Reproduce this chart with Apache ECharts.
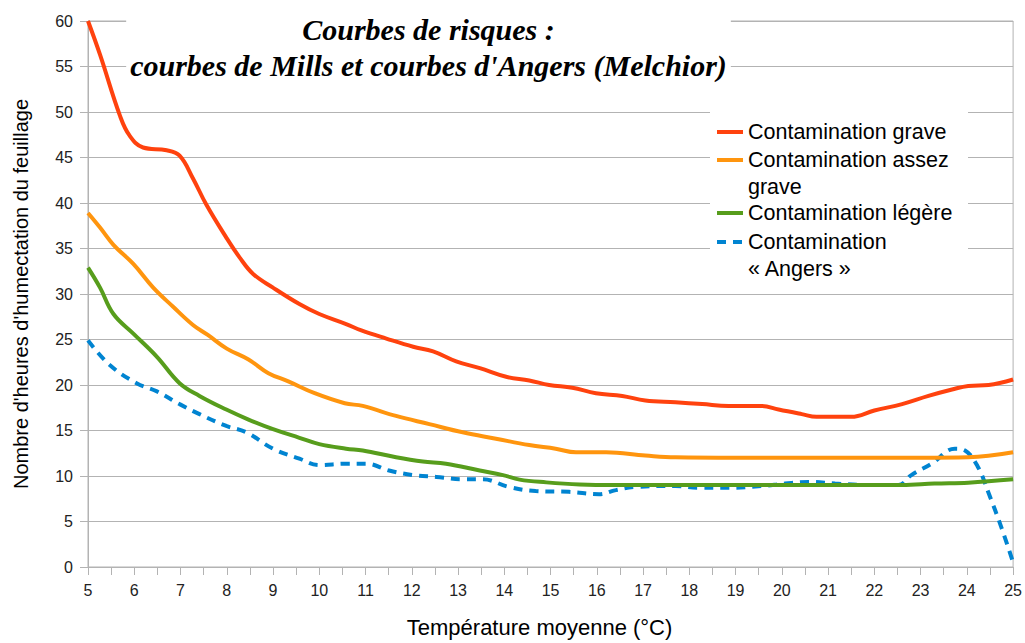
<!DOCTYPE html>
<html><head><meta charset="utf-8">
<script src="https://cdn.jsdelivr.net/npm/echarts@6/dist/echarts.min.js"></script>
<style>html,body{margin:0;padding:0;background:#fff}#c{width:1025px;height:643px}</style>
</head><body><div id="c"></div>
<script>
// ---- data ----
const seriesNames = ['Contamination grave', 'Contamination assez\ngrave', 'Contamination légère', 'Contamination\n« Angers »'];
const graveX = [5, 5.26, 5.69, 5.9, 6.19, 6.7, 6.98, 7.27, 7.56, 7.99, 8.28, 8.57, 9.0, 9.57, 10.0, 10.58, 10.91, 11.45, 12.03, 12.46, 12.96, 13.47, 14.04, 14.54, 14.97, 15.47, 15.98, 16.55, 17.05, 17.7, 18.28, 18.85, 19.57, 19.93, 20.43, 20.75, 21.5, 22.0, 22.6, 23.17, 23.68, 24.03, 24.47, 25];
const graveY = [60, 56.3, 49.6, 47.4, 46.1, 45.8, 45.2, 42.7, 39.8, 36.2, 34.0, 32.2, 30.7, 28.9, 27.8, 26.7, 26.0, 25.1, 24.2, 23.7, 22.6, 21.85, 20.9, 20.5, 20.0, 19.7, 19.1, 18.8, 18.3, 18.1, 17.9, 17.7, 17.7, 17.3, 16.8, 16.5, 16.5, 17.2, 17.9, 18.8, 19.5, 19.9, 20.0, 20.6];
const assezX = [5, 5.26, 5.55, 5.98, 6.41, 6.84, 7.27, 7.59, 8.0, 8.47, 8.9, 9.33, 9.9, 10.55, 10.94, 11.66, 12.38, 13.1, 13.82, 14.54, 15.11, 15.55, 16.2, 17.05, 17.7, 19, 20, 21, 22, 23, 24.03, 25];
const assezY = [38.9, 37.3, 35.4, 33.3, 30.7, 28.6, 26.6, 25.5, 24.0, 22.8, 21.3, 20.4, 19.1, 18.0, 17.7, 16.6, 15.7, 14.8, 14.1, 13.4, 13.0, 12.6, 12.6, 12.25, 12.05, 12, 12, 12, 12, 12, 12.05, 12.6];
const legereX = [5, 5.26, 5.55, 5.98, 6.49, 6.98, 7.41, 7.99, 8.47, 9.0, 9.57, 10.0, 10.58, 10.94, 11.66, 12.24, 12.74, 13.47, 13.97, 14.33, 14.91, 15.63, 16.35, 18, 20, 22.6, 23.3, 24.03, 25];
const legereY = [32.9, 30.7, 27.8, 25.65, 23.1, 20.2, 18.8, 17.3, 16.2, 15.15, 14.2, 13.5, 13.0, 12.8, 12.07, 11.6, 11.35, 10.6, 10.1, 9.6, 9.3, 9.07, 9.0, 9.0, 9.0, 9.0, 9.17, 9.27, 9.64];
const angersX = [5, 5.47, 6.05, 6.49, 6.98, 7.41, 7.99, 8.42, 9.0, 9.57, 10.0, 10.58, 11.01, 11.51, 12.03, 12.53, 13.1, 13.53, 14.1, 14.68, 15.4, 16.05, 16.41, 16.84, 17.7, 18.2, 18.85, 19.57, 20.07, 20.58, 21.15, 21.87, 22.52, 22.8, 23.24, 23.74, 23.96, 24.24, 24.46, 24.75, 25];
const angersY = [24.9, 22.2, 20.2, 19.3, 17.9, 16.8, 15.5, 14.8, 13.0, 11.9, 11.2, 11.35, 11.35, 10.6, 10.1, 9.9, 9.64, 9.64, 8.8, 8.34, 8.26, 8.0, 8.45, 8.8, 8.9, 8.7, 8.7, 8.9, 9.17, 9.35, 9.17, 9.0, 9.0, 10.1, 11.35, 13.0, 12.8, 11.0, 8.26, 4.3, 0.5];
const titleText = "Courbes de risques :\ncourbes de Mills et courbes d'Angers (Melchior)";
const xName = 'Température moyenne (°C)';
const yName = "Nombre d'heures d'humectation du feuillage";

// ---- styles ----
const colors = ['#ff420e', '#ff950e', '#579d1c', '#0084d1'];
const pairs = (xs, ys) => xs.map((x, i) => [x, ys[i]]);
const seriesData = [pairs(graveX, graveY), pairs(assezX, assezY), pairs(legereX, legereY), pairs(angersX, angersY)];
const gridColor = '#b3b3b3';
const font = '"Liberation Sans", Arial, sans-serif';

const chart = echarts.init(document.getElementById('c'), null, {renderer: 'svg'});

// legend built from graphic elements
const legendTop = [132, 160, 213, 242];
const legendGraphics = [{
  type: 'rect', z: 50, shape: {x: 710, y: 104, width: 258, height: 182}, style: {fill: '#fff'}
}];
seriesNames.forEach((n, i) => {
  legendGraphics.push({
    type: 'line', z: 51,
    shape: {x1: 717, y1: legendTop[i], x2: 743, y2: legendTop[i]},
    style: {stroke: colors[i], lineWidth: 4, lineDash: i === 3 ? [9, 7] : null}
  });
  legendGraphics.push({
    type: 'text', z: 51,
    style: {text: n, x: 748, y: legendTop[i] - 13.25, font: '21.5px ' + font, fill: '#000', lineHeight: 26.5, verticalAlign: 'top', align: 'left'}
  });
});

chart.setOption({
  animation: false,
  backgroundColor: '#fff',
  grid: {left: 88, right: 10, top: 21, bottom: 70, show: true, borderColor: gridColor, borderWidth: 1},
  xAxis: {
    type: 'value', min: 5, max: 25, interval: 1,
    name: xName, nameLocation: 'middle', nameGap: 49,
    nameTextStyle: {fontFamily: font, fontSize: 22, color: '#000', padding: [0, 22, 0, 0]},
    axisLine: {show: true, lineStyle: {color: gridColor}},
    axisTick: {show: true, length: 8, lineStyle: {color: gridColor}},
    minorTick: {show: true, splitNumber: 2, length: 8, lineStyle: {color: gridColor}},
    axisLabel: {fontFamily: font, fontSize: 16, color: '#222', margin: 15},
    splitLine: {show: false}
  },
  yAxis: {
    type: 'value', min: 0, max: 60, interval: 5,
    name: yName, nameLocation: 'middle', nameGap: 57,
    nameTextStyle: {fontFamily: font, fontSize: 20, color: '#000'},
    axisLine: {show: true, lineStyle: {color: gridColor}},
    axisTick: {show: true, length: 8, lineStyle: {color: gridColor}},
    axisLabel: {fontFamily: font, fontSize: 16, color: '#222', margin: 15},
    splitLine: {show: true, lineStyle: {color: gridColor}}
  },
  series: seriesData.map((d, i) => ({
    type: 'line', name: seriesNames[i], data: d, smooth: 0.4, showSymbol: false,
    z: 3 + (3 - i),
    lineStyle: {color: colors[i], width: 4, type: i === 3 ? [9, 7] : 'solid'},
    itemStyle: {color: colors[i]}
  })),
  graphic: [{
    type: 'text', z: 50,
    style: {
      text: titleText, x: 428.5, y: 11, align: 'center', verticalAlign: 'top',
      font: 'italic bold 30px "Liberation Serif", "Times New Roman", serif',
      fill: '#000', lineHeight: 36, backgroundColor: '#fff', padding: [0, 4]
    }
  }].concat(legendGraphics)
});
</script>
</body></html>
